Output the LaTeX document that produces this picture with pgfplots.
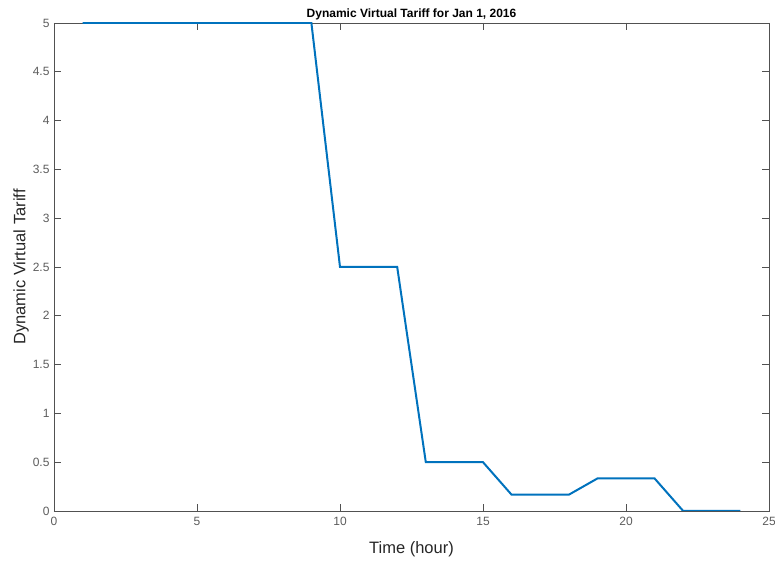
\documentclass[border=0pt]{standalone}
\usepackage{pgfplots}
\pgfplotsset{compat=1.18}
\usepackage{fontspec}
\setmainfont{Liberation Sans}
\definecolor{mblue}{RGB}{0,114,189}
\definecolor{axgray}{RGB}{38,38,38}
\begin{document}
\begin{tikzpicture}
\useasboundingbox (-54pt,-50pt) rectangle (721pt,511pt);
\begin{axis}[
  at={(0,0)}, anchor=south west,
  scale only axis,
  width=715pt, height=488pt,
  xmin=0, xmax=25, ymin=0, ymax=5,
  xtick={0,5,...,25},
  ytick={0,0.5,...,5},
  tick align=inside,
  major tick length=7pt,
  axis line style={axgray!80, line width=0.6pt},
  every tick/.style={axgray!80, line width=0.6pt},
  tick label style={font=\fontsize{12}{14}\selectfont, text=axgray!75},
  /pgf/number format/assume math mode=true,
  yticklabel style={/pgf/number format/fixed, xshift=-1pt},
  xticklabel style={yshift=-3pt},
  title={\textbf{Dynamic Virtual Tariff for Jan 1, 2016}},
  title style={font=\fontsize{12}{14}\selectfont, yshift=-7pt},
  xlabel={Time (hour)},
  ylabel={Dynamic Virtual Tariff},
  label style={font=\fontsize{16.5}{19}\selectfont, text=axgray},
  xlabel style={yshift=-9pt},
  ylabel style={yshift=-3pt},
]
\addplot[mblue, line width=2pt] coordinates {
(1,5) (2,5) (3,5) (4,5) (5,5) (6,5) (7,5) (8,5) (9,5)
(10,2.5) (11,2.5) (12,2.5)
(13,0.5) (14,0.5) (15,0.5)
(16,0.1667) (17,0.1667) (18,0.1667)
(19,0.3333) (20,0.3333) (21,0.3333)
(22,0) (23,0) (24,0)
};
\end{axis}
\end{tikzpicture}
\end{document}
